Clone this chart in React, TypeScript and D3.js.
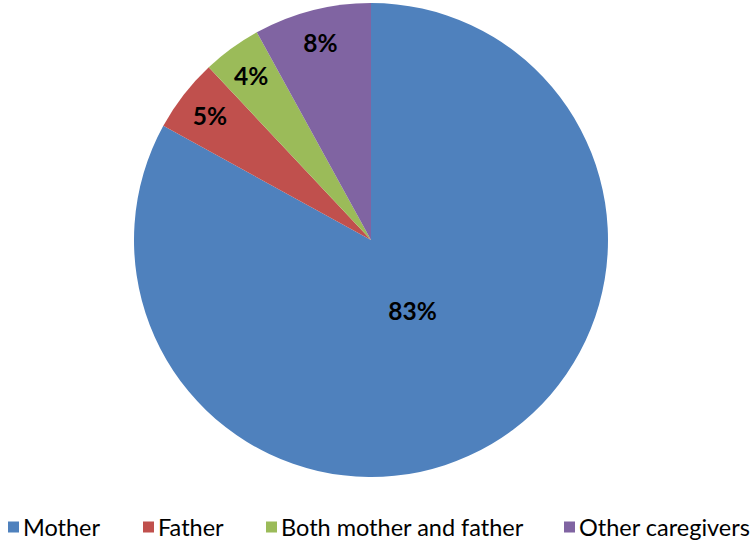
import React from "react";
import * as d3 from "d3";

const categories = ["Mother", "Father", "Both mother and father", "Other caregivers"];
const values = [83, 5, 4, 8];
const colors = ["#4F81BD", "#C0504D", "#9BBB59", "#8064A2"];
const legendX = [8, 143, 266, 564];

export default function App() {
  const width = 752;
  const height = 541;
  const cx = 371;
  const cy = 240;
  const radius = 237;

  const data = categories.map((c, i) => ({ label: c, value: values[i], color: colors[i] }));

  const pie = d3
    .pie<any>()
    .sort(null)
    .value((d) => d.value);
  const arcs = pie(data);

  const arc = d3.arc<any>().innerRadius(0).outerRadius(radius);

  const labelPos = (d: any) => {
    const mid = (d.startAngle + d.endAngle) / 2;
    const r = d.data.value > 50 ? radius * 0.345 : radius * 0.86;
    return [Math.sin(mid) * r, -Math.cos(mid) * r];
  };

  return (
    <svg
      width={width}
      height={height}
      style={{ position: "absolute", left: 0, top: 0, background: "#fff" }}
      fontFamily="Lato, 'Open Sans', sans-serif"
    >
      <g transform={`translate(${cx},${cy})`}>
        {arcs.map((d, i) => (
          <path key={i} d={arc(d) as string} fill={d.data.color} />
        ))}
        {arcs.map((d, i) => {
          const [x, y] = labelPos(d);
          return (
            <text
              key={i}
              x={x}
              y={y}
              textAnchor="middle"
              dominantBaseline="central"
              fontSize={24.5}
              fontWeight="bold"
              fill="#000"
            >
              {d.data.value}%
            </text>
          );
        })}
      </g>
      <g>
        {data.map((d, i) => (
          <g key={i} transform={`translate(${legendX[i]},527)`}>
            <rect x={0} y={-5.5} width={11} height={11} fill={d.color} />
            <text x={15} y={0} dominantBaseline="central" fontSize={23.5} fill="#000">
              {d.label}
            </text>
          </g>
        ))}
      </g>
    </svg>
  );
}
